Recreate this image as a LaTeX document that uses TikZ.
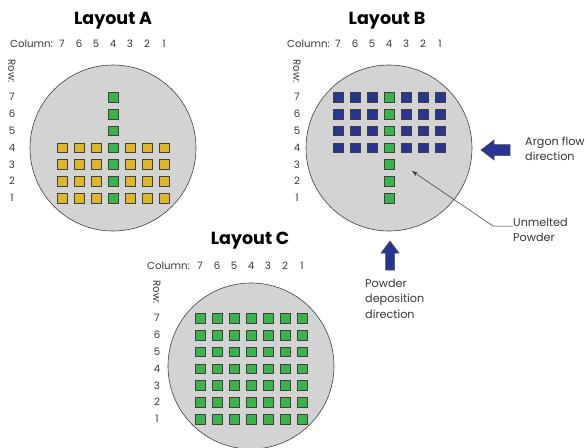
\documentclass[tikz,border=0pt]{standalone}
\usepackage{fontspec}
\setmainfont{Poppins}
\usetikzlibrary{arrows.meta,calc}
\definecolor{wafergray}{RGB}{211,211,211}
\definecolor{sqyellow}{RGB}{222,182,40}
\definecolor{sqgreen}{RGB}{58,180,74}
\definecolor{sqblue}{RGB}{40,54,146}
\definecolor{txtgray}{RGB}{55,55,55}
\begin{document}
\begin{tikzpicture}[x=1pt,y=-1pt,
  wafer/.style={circle, draw=black!75, fill=wafergray, line width=0.6pt, minimum size=166pt, inner sep=0pt},
  sq/.style={draw=black!75, line width=0.5pt, minimum size=9.5pt, inner sep=0pt},
  lbl/.style={text=txtgray, font=\fontsize{10.2pt}{12pt}\selectfont, inner sep=0pt},
  ttl/.style={text=black, font=\fontsize{17.5pt}{20pt}\selectfont\bfseries, inner sep=0pt},
  note/.style={text=txtgray, font=\fontsize{11.2pt}{15.5pt}\selectfont, align=left, inner sep=0pt},
  blockarrow/.style={draw=black!70, fill=sqblue, line width=0.5pt}]
\useasboundingbox (0,0) rectangle (586,447);

% ---------------- Layout A ----------------
\node[wafer] (A) at (113,148) {};
\node[ttl] (A-title) at (113,21) {Layout A};
\node[lbl, anchor=east] (A-collabel) at (53,44) {Column:};
\foreach \c in {1,...,7} \node[lbl] (A-col\c) at ({113+(4-\c)*17},44) {\c};
\node[lbl, rotate=-90] (A-rowlabel) at (12,71) {Row:};
\foreach \r in {1,...,7} \node[lbl] (A-row\r) at (12,{198-(\r-1)*16.8}) {\r};
\foreach \r in {1,...,4} \foreach \c in {1,...,7} {
  \ifnum\c=4 \def\fc{sqgreen}\else\def\fc{sqyellow}\fi
  \node[sq, fill=\fc] (A-\c-\r) at ({113+(4-\c)*17},{198-(\r-1)*16.8}) {};
}
\foreach \r in {5,6,7}
  \node[sq, fill=sqgreen] (A-4-\r) at (113,{198-(\r-1)*16.8}) {};

% ---------------- Layout B ----------------
\node[wafer] (B) at (389,148) {};
\node[ttl] (B-title) at (387,21) {Layout B};
\node[lbl, anchor=east] (B-collabel) at (330,44) {Column:};
\foreach \c in {1,...,7} \node[lbl] (B-col\c) at ({389+(4-\c)*17},44) {\c};
\node[lbl, rotate=-90] (B-rowlabel) at (297,71) {Row:};
\foreach \r in {1,...,7} \node[lbl] (B-row\r) at (297,{198-(\r-1)*16.8}) {\r};
\foreach \r in {4,...,7} \foreach \c in {1,...,7} {
  \ifnum\c=4 \def\fc{sqgreen}\else\def\fc{sqblue}\fi
  \node[sq, fill=\fc] (B-\c-\r) at ({389+(4-\c)*17},{198-(\r-1)*16.8}) {};
}
\foreach \r in {1,2,3}
  \node[sq, fill=sqgreen] (B-4-\r) at (389,{198-(\r-1)*16.8}) {};

% Argon flow arrow
\draw[blockarrow] (481,150) -- (494,140) -- (494,144.5) -- (510,144.5) -- (510,155.5) -- (494,155.5) -- (494,160) -- cycle;
\node[note, anchor=west] (argon) at (525,149) {Argon flow\\direction};

% Unmelted powder
\node[note, anchor=north west] (unm) at (513,218) {Unmelted\\Powder};
\coordinate (unmtip) at (412,171);
\draw[black!80, line width=0.5pt, -{Stealth[length=6pt,width=4pt]}]
  ([yshift=-8pt]unm.north west) -- (493,226) -- (unmtip);

% Powder deposition arrow
\draw[blockarrow] (390,241) -- (399,253) -- (394.5,253) -- (394.5,270) -- (385.5,270) -- (385.5,253) -- (381,253) -- cycle;
\node[note, anchor=north west] (pdep) at (365,279) {Powder\\deposition\\direction};

% ---------------- Layout C ----------------
\node[wafer] (C) at (251,366) {};
\node[ttl] (C-title) at (250,241) {Layout C};
\node[lbl, anchor=east] (C-collabel) at (190,266) {Column:};
\foreach \c in {1,...,7} \node[lbl] (C-col\c) at ({251+(4-\c)*17},266) {\c};
\node[lbl, rotate=-90] (C-rowlabel) at (157,292) {Row:};
\foreach \r in {1,...,7} \node[lbl] (C-row\r) at (157,{419-(\r-1)*16.8}) {\r};
\foreach \r in {1,...,7} \foreach \c in {1,...,7}
  \node[sq, fill=sqgreen] (C-\c-\r) at ({251+(4-\c)*17},{419-(\r-1)*16.8}) {};
\end{tikzpicture}
\end{document}
